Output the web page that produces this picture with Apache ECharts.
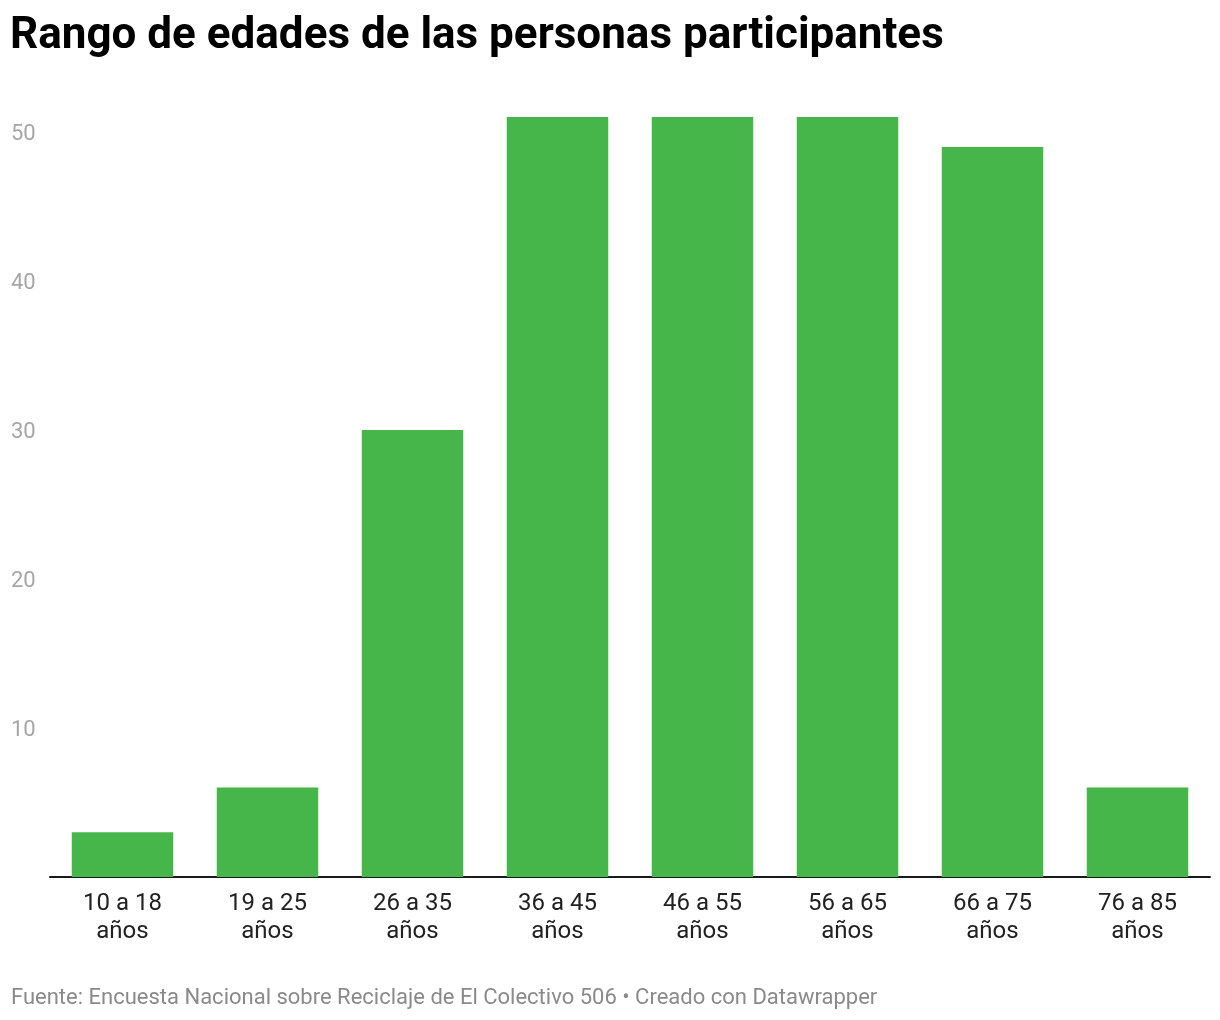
<!DOCTYPE html>
<html><head><meta charset="utf-8">
<script src="https://cdn.jsdelivr.net/npm/echarts@6/dist/echarts.min.js"></script>
<style>html,body{margin:0;padding:0;background:#fff;}#c{width:1220px;height:1020px;}</style>
</head><body><div id="c"></div>
<script>
const categories = ['10 a 18\naños','19 a 25\naños','26 a 35\naños','36 a 45\naños','46 a 55\naños','56 a 65\naños','66 a 75\naños','76 a 85\naños'];
const values = [3, 6, 30, 51, 51, 51, 49, 6];
const yTicks = [10, 20, 30, 40, 50];
const titleText = 'Rango de edades de las personas participantes';
const footerText = 'Fuente: Encuesta Nacional sobre Reciclaje de El Colectivo 506 • Creado con Datawrapper';

const chart = echarts.init(document.getElementById('c'), null, {renderer:'canvas'});
chart.setOption({
  animation: false,
  backgroundColor: '#fff',
  title: [
    {text: titleText, left: 5, top: 10, textStyle: {fontFamily: 'Roboto', fontWeight: 'bold', fontSize: 44, color: '#000'}},
    {text: footerText, left: 6, top: 982, textStyle: {fontFamily: 'Roboto', fontWeight: 'normal', fontSize: 22, color: '#8a8a8a'}}
  ],
  grid: {left: 50, right: 10, top: 57.5, height: 819.5, containLabel: false},
  xAxis: {
    type: 'category', data: categories,
    axisLine: {show: true, lineStyle: {color: '#1a1a1a', width: 2}},
    axisTick: {show: false},
    axisLabel: {fontFamily: 'Roboto', fontSize: 24, color: '#222', lineHeight: 28, margin: 13, interval: 0}
  },
  yAxis: {
    type: 'value', min: 0, max: 55, interval: 10,
    splitLine: {show: false}, axisLine: {show: false}, axisTick: {show: false},
    axisLabel: {fontFamily: 'Roboto', fontSize: 22, color: '#a6a6a6', align: 'left', margin: 39,
      verticalAlign: 'middle',
      formatter: v => yTicks.indexOf(v) >= 0 ? '{a|' + v + '}' : '',
      rich: {a: {fontFamily: 'Roboto', fontSize: 22, color: '#a6a6a6', padding: [5, 0, 0, 0]}}}
  },
  series: [{
    type: 'bar', data: values, barWidth: '70%',
    itemStyle: {color: '#47b64a'}
  }]
});
</script></body></html>
